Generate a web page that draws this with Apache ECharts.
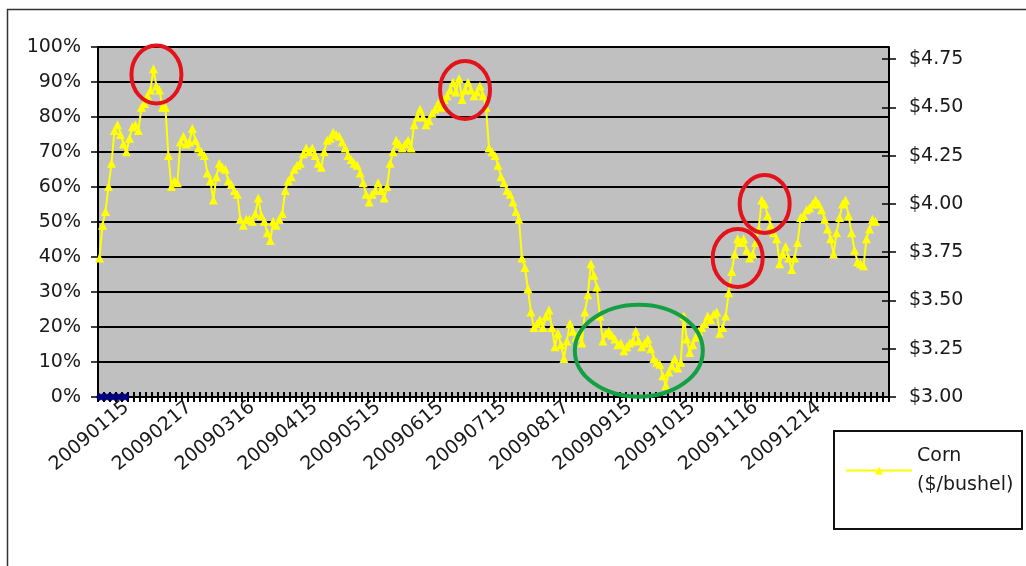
<!DOCTYPE html>
<html>
<head>
<meta charset="utf-8">
<script src="https://cdn.jsdelivr.net/npm/echarts@6/dist/echarts.min.js"></script>
<style>
  html, body { margin: 0; padding: 0; background: #ffffff; }
  #chart { width: 1026px; height: 566px; }
</style>
</head>
<body>
<div id="chart"></div>
<script>
// Trading-day category axis: a date label every 21 sessions, starting at session 10.
const tickLabels = ['20090115', '20090217', '20090316', '20090415', '20090515', '20090615',
                    '20090715', '20090817', '20090915', '20091015', '20091116', '20091214'];
const firstLabelIndex = 9;
const labelStep = 21;
const dayCount = 264;

// Corn closing prices, $/bushel, one value per session.
const priceQ1 = [
  3.72, 3.89, 3.96, 4.09, 4.21, 4.38, 4.41, 4.36, 4.31, 4.27,
  4.34, 4.40, 4.41, 4.38, 4.50, 4.52, 4.56, 4.59, 4.70, 4.61,
  4.59, 4.50, 4.50, 4.25, 4.09, 4.12, 4.11, 4.32, 4.35, 4.31,
  4.32, 4.39, 4.33, 4.29, 4.27, 4.25, 4.16, 4.12, 4.02, 4.14,
  4.21, 4.19, 4.18, 4.12, 4.10, 4.07, 4.05, 3.92, 3.89, 3.92,
  3.92, 3.91, 3.95, 4.03, 3.94, 3.91, 3.85, 3.81, 3.91, 3.89,
  3.92
];
const priceQ2 = [
  3.95, 4.07, 4.12, 4.14, 4.18, 4.20, 4.21, 4.26, 4.29,
  4.27, 4.29, 4.25, 4.21, 4.19, 4.27, 4.33, 4.34, 4.37, 4.36,
  4.35, 4.32, 4.29, 4.25, 4.23, 4.21, 4.20, 4.16, 4.11, 4.05,
  4.01, 4.05, 4.07, 4.11, 4.07, 4.03, 4.09, 4.21, 4.27, 4.33,
  4.31, 4.29, 4.31, 4.33, 4.29, 4.41, 4.45, 4.49, 4.45, 4.41,
  4.43, 4.47, 4.49, 4.52, 4.50, 4.54, 4.56, 4.59, 4.63, 4.58,
  4.65, 4.54, 4.59, 4.63
];
const priceQ3 = [
  4.59, 4.56, 4.58, 4.61, 4.56, 4.50,
  4.29, 4.27, 4.25, 4.20, 4.14, 4.11, 4.07, 4.05, 4.01, 3.96,
  3.92, 3.72, 3.67, 3.56, 3.44, 3.36, 3.38, 3.40, 3.36, 3.42,
  3.45, 3.36, 3.26, 3.33, 3.27, 3.20, 3.29, 3.38, 3.34, 3.31,
  3.33, 3.28, 3.44, 3.53, 3.69, 3.63, 3.57, 3.42, 3.29, 3.33,
  3.34, 3.32, 3.30, 3.27, 3.28, 3.24, 3.26, 3.28, 3.29, 3.34,
  3.29, 3.26, 3.28, 3.30, 3.25, 3.20, 3.18, 3.17
];
const priceQ4 = [
  3.11, 3.06,
  3.13, 3.16, 3.20, 3.15, 3.18, 3.42, 3.30, 3.23, 3.27, 3.31,
  3.34, 3.36, 3.38, 3.42, 3.40, 3.43, 3.44, 3.33, 3.36, 3.42,
  3.54, 3.65, 3.74, 3.82, 3.80, 3.82, 3.76, 3.72, 3.74, 3.80,
  3.87, 4.02, 4.00, 3.94, 3.89, 3.85, 3.82, 3.69, 3.74, 3.78,
  3.72, 3.66, 3.72, 3.80, 3.93, 3.94, 3.97, 3.98, 4.00, 4.02,
  4.00, 3.97, 3.92, 3.87, 3.82, 3.74, 3.85, 3.93, 4.00, 4.02,
  3.94, 3.85
];
const priceJan2010 = [3.76, 3.70, 3.69, 3.68, 3.82, 3.87, 3.92, 3.91];

// Percentile series on the left axis (only the opening sessions are filled).
const rankStart = [0, 0, 0, 0, 0, 0, 0, 0, 0, 0];

// Sessions singled out with rings: day index and price.
const circledDays   = [19, 122, 222, 213, 180];
const circledPrices = [4.67, 4.59, 4.00, 3.72, 3.24];
const circledKinds  = ['peak', 'peak', 'peak', 'peak', 'trough'];

const categories = Array.from({ length: dayCount }, (_, i) => String(i + 1));
const corn = [].concat(priceQ1, priceQ2, priceQ3, priceQ4, priceJan2010);
const cornSeries = categories.map((_, i) => (i < corn.length ? corn[i] : null));
const rankSeries = categories.map((_, i) => (i < rankStart.length ? rankStart[i] : null));

const FONT = 'DejaVu Sans';
const TEXT = '#1a1a1a';
const isLabelDay = (idx) => idx >= firstLabelIndex && (idx - firstLabelIndex) % labelStep === 0;

const chart = echarts.init(document.getElementById('chart'), null, { renderer: 'canvas' });

const option = {
  animation: false,
  backgroundColor: '#ffffff',
  grid: { left: 98, right: 137, top: 47, bottom: 169, show: true, backgroundColor: '#c0c0c0', borderWidth: 0 },
  legend: {
    data: ['Corn ($/bushel)'],
    left: 840, top: 422,
    itemWidth: 66, itemHeight: 10, itemGap: 5,
    formatter: () => 'Corn\n($/bushel)',
    textStyle: { fontFamily: FONT, fontSize: 19, color: TEXT, lineHeight: 29, padding: [29, 0, 0, 0] }
  },
  xAxis: [
    {
      type: 'category', data: categories, boundaryGap: true, position: 'bottom',
      axisLine: { show: true, lineStyle: { color: '#000', width: 2 } },
      axisTick: { show: true, interval: 1, length: 5, inside: false, lineStyle: { color: '#000', width: 2 } },
      axisLabel: {
        interval: (idx) => isLabelDay(idx),
        formatter: (v, idx) => tickLabels[(idx - firstLabelIndex) / labelStep],
        rotate: 40, margin: 8, fontFamily: FONT, fontSize: 19, color: TEXT
      },
      splitLine: { show: false }
    },
    {
      type: 'category', data: categories, boundaryGap: true, position: 'bottom',
      axisLine: { show: false },
      axisTick: { show: true, interval: 1, length: 5, inside: true, lineStyle: { color: '#000', width: 2 } },
      axisLabel: { show: false },
      splitLine: { show: false }
    }
  ],
  yAxis: [
    {
      type: 'value', position: 'left', min: 0, max: 100, interval: 10,
      axisLine: { show: true, lineStyle: { color: '#000', width: 2 } },
      axisTick: { show: true, length: 7, lineStyle: { color: '#000', width: 1.5 } },
      axisLabel: { formatter: '{value}%', margin: 17, fontFamily: FONT, fontSize: 19, color: TEXT },
      splitLine: { show: true, lineStyle: { color: '#000', width: 2 } }
    },
    {
      type: 'value', position: 'right', min: 3, max: 4.8125, interval: 0.25,
      axisLine: { show: true, lineStyle: { color: '#000', width: 2 } },
      axisTick: { show: true, length: 7, lineStyle: { color: '#000', width: 1.5 } },
      axisLabel: {
        formatter: (v) => '$' + v.toFixed(2), showMaxLabel: false,
        margin: 20, fontFamily: FONT, fontSize: 19, color: TEXT
      },
      splitLine: { show: false }
    },
    {
      type: 'value', position: 'right', min: 3, max: 4.8125, interval: 0.25,
      axisLine: { show: false },
      axisTick: { show: true, inside: true, length: 7, lineStyle: { color: '#000', width: 1.5 } },
      axisLabel: { show: false },
      splitLine: { show: false }
    }
  ],
  series: [
    {
      name: 'Corn ($/bushel)', type: 'line', xAxisIndex: 0, yAxisIndex: 1,
      data: cornSeries, showAllSymbol: true, symbol: 'triangle', symbolSize: 9,
      lineStyle: { color: '#ffff00', width: 2 },
      itemStyle: { color: '#ffff00' },
      z: 3
    },
    {
      name: 'Percentile', type: 'line', xAxisIndex: 0, yAxisIndex: 0,
      data: rankSeries, showAllSymbol: true, symbol: 'diamond', symbolSize: 8,
      lineStyle: { color: '#000080', width: 2 },
      itemStyle: { color: '#000080' },
      z: 4
    }
  ]
};

chart.setOption(option);

// Rings around highlighted sessions, placed through the price scale.
const ringStyle = {
  peak:   { stroke: '#e3121b', rx: 25, ry: 29 },
  trough: { stroke: '#13a043', rx: 64, ry: 46 }
};
const rings = circledDays.map((day, k) => {
  const [cx, cy] = chart.convertToPixel({ seriesIndex: 0 }, [day, circledPrices[k]]);
  const s = ringStyle[circledKinds[k]];
  return {
    type: 'ellipse', z: 100, silent: true,
    shape: { cx: cx, cy: cy, rx: s.rx, ry: s.ry },
    style: { fill: 'none', stroke: s.stroke, lineWidth: 4 }
  };
});

chart.setOption({
  graphic: [
    { type: 'rect', z: 0, silent: true, shape: { x: 7.5, y: 9.5, width: 1040, height: 580 },
      style: { fill: 'none', stroke: '#333', lineWidth: 1.5 } },
    { type: 'rect', z: 0, silent: true, shape: { x: 834, y: 431, width: 188, height: 98 },
      style: { fill: 'none', stroke: '#111', lineWidth: 2 } }
  ].concat(rings)
});
</script>
</body>
</html>
